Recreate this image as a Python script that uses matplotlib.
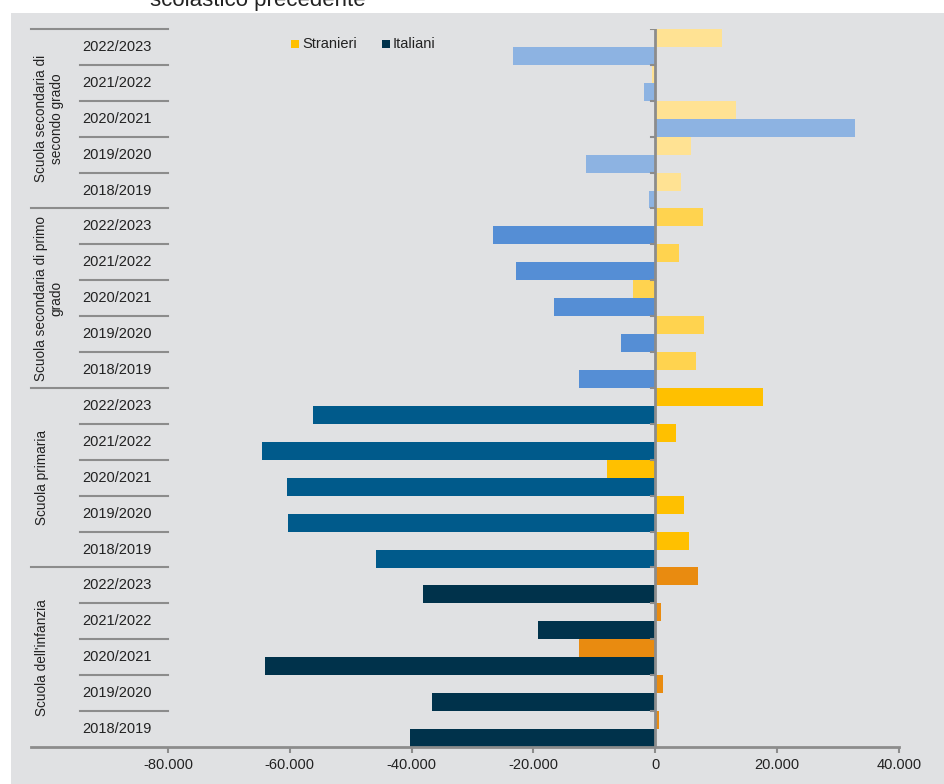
import matplotlib.pyplot as plt
from matplotlib.patches import Rectangle

plt.rcParams['font.family'] = ['Liberation Sans', 'DejaVu Sans']

groups = ["Scuola secondaria di\nsecondo grado", "Scuola secondaria di primo\ngrado",
          "Scuola primaria", "Scuola dell'infanzia"]
years = ["2022/2023", "2021/2022", "2020/2021", "2019/2020", "2018/2019"]

# differences vs previous school year, top to bottom
stranieri = [10900, -540, 13200, 5900, 4260,
             7870, 3930, -3600, 8030, 6700,
             17700, 3440, -7870, 4750, 5570,
             7050, 980, -12600, 1300, 650]
italiani = [-23300, -1800, 32800, -11300, -980,
            -26700, -22800, -16700, -5570, -12460,
            -56200, -64600, -60500, -60300, -45900,
            -38100, -19300, -64100, -36700, -40300]

col_str = ['#FFE293', '#FFD34F', '#FFC000', '#E98B10']
col_ita = ['#8DB3E2', '#558ED5', '#005A8B', '#00324B']

xticks = [-80000, -60000, -40000, -20000, 0, 20000, 40000]
xtick_labels = ['-80.000', '-60.000', '-40.000', '-20.000', '0', '20.000', '40.000']

bg = '#E0E1E3'
line_c = '#8C8C8C'

fig = plt.figure(figsize=(9.45, 7.84), dpi=100)
fig.patches.append(Rectangle((11 / 945, 0), 1, (784 - 13) / 784,
                             transform=fig.transFigure, facecolor=bg, edgecolor='none', zorder=-10))
fig.text(258 / 945, 1 - 6 / 784, 'scolastico precedente', ha='center', va='baseline',
         fontsize=16, color='#222222')

ax = fig.add_axes([168 / 945, 1 - 747 / 784, (899 - 168) / 945, (747 - 29) / 784])
ax.set_facecolor('none')

n = len(stranieri)
for i in range(n):
    g = i // 5
    ax.barh(i - 0.25, stranieri[i], height=0.5, color=col_str[g], zorder=2)
    ax.barh(i + 0.25, italiani[i], height=0.5, color=col_ita[g], zorder=2)

ax.set_ylim(n - 0.5, -0.5)
ax.set_xlim(-80000, 40000)
for s in ax.spines.values():
    s.set_visible(False)
ax.set_yticks([])
ax.set_xticks(xticks)
ax.set_xticklabels(xtick_labels, fontsize=10.5, color='#222222')
ax.tick_params(axis='x', direction='out', length=4, width=1.5, color=line_c, pad=4)

# zero axis with small ticks at category boundaries
ax.axvline(0, color=line_c, lw=2, zorder=3)
for i in range(n):
    ax.plot([-700, 0], [i - 0.5, i - 0.5], color=line_c, lw=1.5, zorder=3)

tr = ax.get_yaxis_transform()
x_grp = (31 - 168) / (899 - 168)
x_year = (80 - 168) / (899 - 168)
ax.plot([x_grp, 1], [n - 0.5, n - 0.5], transform=tr, color=line_c, lw=2, clip_on=False)

for i in range(n):
    b = i - 0.5
    x0 = x_grp if i % 5 == 0 else x_year
    ax.plot([x0, 0], [b, b], transform=tr, color=line_c, lw=1.5, clip_on=False)
    ax.text((82 - 168) / (899 - 168), i, years[i % 5], transform=tr, ha='left',
            va='center', fontsize=10.5, color='#222222')

for g, name in enumerate(groups):
    xg = (49 - 168) / (899 - 168) if '\n' in name else (42 - 168) / (899 - 168)
    ax.text(xg, g * 5 + 2, name, transform=tr, rotation=90, ha='center', va='center',
            multialignment='center', fontsize=9.8, color='#222222', linespacing=1.1)

# legend
fig.patches.append(Rectangle((291 / 945, 1 - 48 / 784), 8 / 945, 8 / 784,
                             transform=fig.transFigure, facecolor='#FFC000', edgecolor='none'))
fig.text(302 / 945, 1 - 44 / 784, 'Stranieri', va='center', fontsize=10.5, color='#222222')
fig.patches.append(Rectangle((382 / 945, 1 - 48 / 784), 8 / 945, 8 / 784,
                             transform=fig.transFigure, facecolor='#00324B', edgecolor='none'))
fig.text(393 / 945, 1 - 44 / 784, 'Italiani', va='center', fontsize=10.5, color='#222222')

fig.savefig('out.png', dpi=100)
